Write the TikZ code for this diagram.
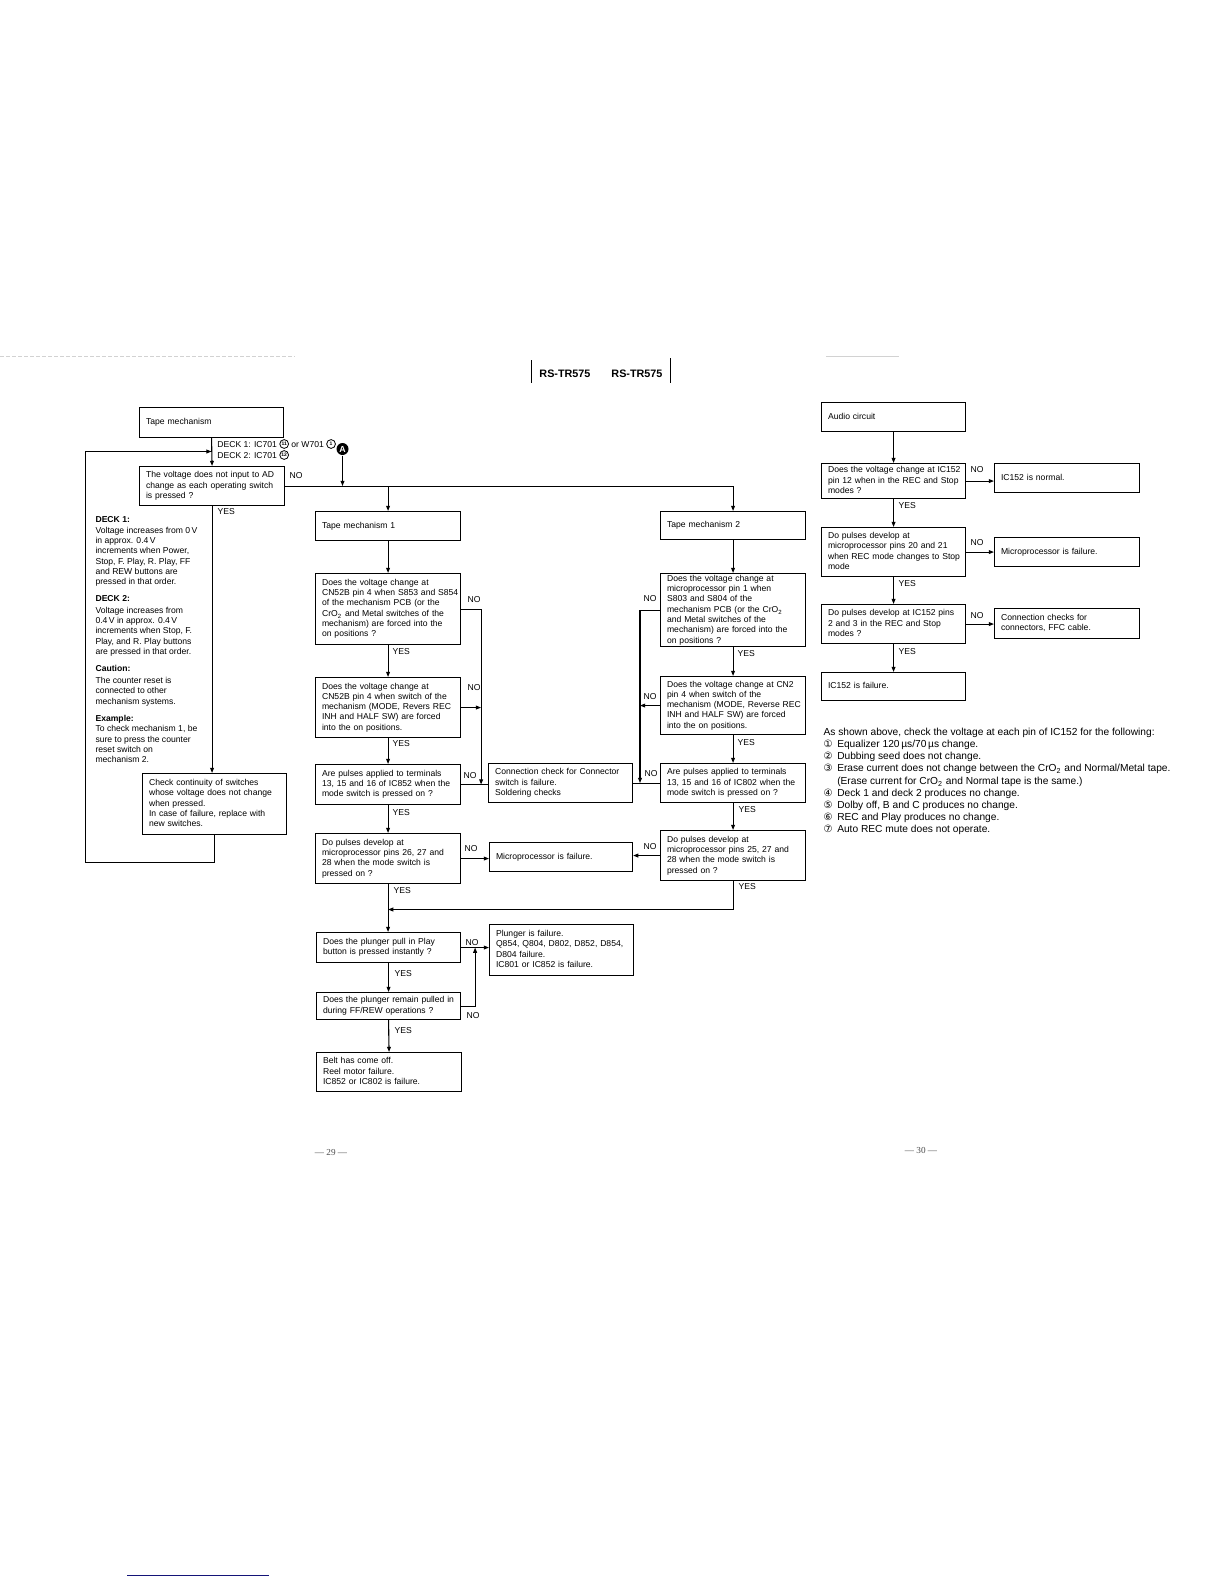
\documentclass[tikz,border=0pt]{standalone}
\usepackage{fontspec}
\setmainfont{Liberation Sans}
\newfontfamily\dejavu{DejaVu Sans}
\newfontfamily\serifpn{Liberation Serif}
\usetikzlibrary{arrows.meta}
\newcommand\bxfont{\fontsize{4.3}{5.15}\selectfont}
\newcommand\notefont{\fontsize{5.1}{6.1}\selectfont}
\newcommand\tl[1]{\begin{tabular}{@{}l@{}}#1\end{tabular}}
\newcommand\cnum[1]{\tikz[baseline=-1.5pt]\node[circle,draw,line width=0.4pt,inner sep=0pt,minimum size=4.4pt,anchor=center,font=\bfseries\fontsize{2.5}{3}\selectfont]{#1};}
\newcommand\ci[1]{\makebox[6.85pt][l]{\dejavu\fontsize{5}{5}\selectfont #1}}
\tikzset{
  bx/.code 2 args={\pgfmathsetmacro\bxw{#1*0.5}\pgfmathsetmacro\bxh{#2*0.5}\pgfmathsetmacro\bxt{#1*0.5-6.5}%
    \edef\bxtmp{\noexpand\pgfkeysalso{minimum width=\bxw pt,minimum height=\bxh pt,text width=\bxt pt}}\bxtmp},
  box/.style={draw, anchor=north west, inner xsep=3.25pt, inner ysep=0pt, align=left, font=\bxfont},
  lbl/.style={inner sep=0pt, anchor=west, font=\bxfont},
  arr/.style={-{Triangle[length=2.6pt,width=1.9pt]}},
}
\begin{document}
\begin{tikzpicture}[x=0.5pt,y=-0.5pt,line width=0.55pt]
\useasboundingbox (0,0) rectangle (1224,1584);
\fill[white] (0,0) rectangle (1224,1584);

% scan artefacts / header
\draw[gray!35,line width=0.3pt,dash pattern=on 2pt off 1pt] (0,356.5) -- (295,356.5);
\draw[gray!35,line width=0.3pt] (826,356.5) -- (899,356.5);
\draw[line width=0.5pt] (531.5,360) -- (531.5,383);
\draw[line width=0.5pt] (670.5,358) -- (670.5,383);
\node[font=\bfseries\fontsize{5.4}{6}\selectfont,inner sep=0pt] (hdr) at (601,374) {RS-TR575\hspace{10.5pt}RS-TR575};

% ---------- left column ----------
\node[box,bx={144}{30}] (tm) at (139,407) {\tl{Tape mechanism}};
\node[box,bx={145}{39}] (d0) at (139,466) {\tl{The voltage does not input to AD\\change as each operating switch\\is pressed ?}};
\node[box,bx={144}{61}] (chk) at (142,773) {\tl{Check continuity of switches\\whose voltage does not change\\when pressed.\\In case of failure, replace with\\new switches.}};
\node[lbl] (dk1) at (217,444) {DECK 1: IC701 \cnum{11} or W701 \cnum{1}};
\node[lbl] (dk2) at (217,455) {DECK 2: IC701 \cnum{12}};
\node[circle,fill=black,text=white,inner sep=0pt,minimum size=6pt,font=\bfseries\fontsize{4.4}{5}\selectfont] (A) at (342.5,449) {A};

\node[lbl,anchor=north west,align=left] (n1) at (95,515.8) {\textbf{DECK 1:}\\[0.3pt]Voltage increases from 0\,V\\in approx. 0.4\,V\\increments when Power,\\Stop, F. Play, R. Play, FF\\and REW buttons are\\pressed in that order.};
\node[lbl,anchor=north west,align=left] (n2) at (95,594.8) {\textbf{DECK 2:}\\[0.8pt]Voltage increases from\\0.4\,V in approx. 0.4\,V\\increments when Stop, F.\\Play, and R. Play buttons\\are pressed in that order.};
\node[lbl,anchor=north west,align=left] (n3) at (95,664.8) {\textbf{Caution:}\\[0.8pt]The counter reset is\\connected to other\\mechanism systems.};
\node[lbl,anchor=north west,align=left] (n4) at (95,714.8) {\textbf{Example:}\\To check mechanism 1, be\\sure to press the counter\\reset switch on\\mechanism 2.};

\draw[arr] (tm.south) -- (d0.north);
\path (tm.south |- 0,451.5) coordinate (loopin);
\draw[arr] (chk.south) -- (chk.south |- 0,862.5) -- (85.5,862.5) -- (85.5,451.5) -- (loopin);
\draw[arr] (d0.south) -- (d0.south |- chk.north);
\node[lbl] (y0) at (217,512) {YES};
\node[lbl] (no0) at (289,476) {NO};

% ---------- mechanism 1 ----------
\node[box,bx={145}{29}] (tm1) at (315,511) {\tl{Tape mechanism 1}};
\node[box,bx={145}{71}] (m1q1) at (315,573) {\tl{Does the voltage change at\\CN52B pin 4 when S853 and S854\\of the mechanism PCB (or the\\CrO\textsubscript{2} and Metal switches of the\\mechanism) are forced into the\\on positions ?}};
\node[box,bx={145}{60}] (m1q2) at (315,677) {\tl{Does the voltage change at\\CN52B pin 4 when switch of the\\mechanism (MODE, Revers REC\\INH and HALF SW) are forced\\into the on positions.}};
\node[box,bx={145}{40}] (m1q3) at (315,764) {\tl{Are pulses applied to terminals\\13, 15 and 16 of IC852 when the\\mode switch is pressed on ?}};
\node[box,bx={145}{50}] (m1q4) at (315,833) {\tl{Do pulses develop at\\microprocessor pins 26, 27 and\\28 when the mode switch is\\pressed on ?}};

% ---------- middle ----------
\node[box,bx={144}{39}] (conn) at (488,763) {\tl{Connection check for Connector\\switch is failure.\\Soldering checks}};
\node[box,bx={143}{29}] (micro) at (489,842) {\tl{Microprocessor is failure.}};

% ---------- mechanism 2 ----------
\node[box,bx={145}{28}] (tm2) at (660,511) {\tl{Tape mechanism 2}};
\node[box,bx={145}{73}] (m2q1) at (660,573) {\tl{Does the voltage change at\\microprocessor pin 1 when\\S803 and S804 of the\\mechanism PCB (or the CrO\textsubscript{2}\\and Metal switches of the\\mechanism) are forced into the\\on positions ?}};
\node[box,bx={145}{58}] (m2q2) at (660,676) {\tl{Does the voltage change at CN2\\pin 4 when switch of the\\mechanism (MODE, Reverse REC\\INH and HALF SW) are forced\\into the on positions.}};
\node[box,bx={145}{39}] (m2q3) at (660,763) {\tl{Are pulses applied to terminals\\13, 15 and 16 of IC802 when the\\mode switch is pressed on ?}};
\node[box,bx={145}{50}] (m2q4) at (660,830) {\tl{Do pulses develop at\\microprocessor pins 25, 27 and\\28 when the mode switch is\\pressed on ?}};

% ---------- plunger ----------
\node[box,bx={144}{30}] (pq1) at (316,932) {\tl{Does the plunger pull in Play\\button is pressed instantly ?}};
\node[box,bx={144}{27}] (pq2) at (316,992) {\tl{Does the plunger remain pulled in\\during FF/REW operations ?}};
\node[box,bx={144}{51}] (plf) at (489,924) {\tl{Plunger is failure.\\Q854, Q804, D802, D852, D854,\\D804 failure.\\IC801 or IC852 is failure.}};
\node[box,bx={145}{39}] (belt) at (316,1052) {\tl{Belt has come off.\\Reel motor failure.\\IC852 or IC802 is failure.}};

% connectors from first decision
\draw (d0.east) -- (d0.east -| tm2.north);
\draw[arr] (d0.east -| tm1.north) -- (tm1.north);
\draw[arr] (d0.east -| tm2.north) -- (tm2.north);
\draw[arr] (A) -- (A |- d0.east);

% mechanism 1 chain
\draw[arr] (tm1.south) -- (m1q1.north);
\draw[arr] (m1q1.south) -- (m1q2.north);
\draw[arr] (m1q2.south) -- (m1q3.north);
\draw[arr] (m1q3.south) -- (m1q4.north);
\node[lbl] (y1) at (392,652) {YES};
\node[lbl] (y2) at (392,744) {YES};
\node[lbl] (y3) at (392,813) {YES};
\node[lbl] (y4) at (393,891) {YES};
\path (m1q3.east) ++(20,0) coordinate (jL);
\draw[arr] (m1q1.east) -| (jL);
\draw[arr] (m1q2.east) -- (m1q2.east -| jL);
\draw (m1q3.east) -- (m1q3.east -| conn.west);
\draw[arr] (m1q4.east) -- (m1q4.east -| micro.west);
\node[lbl] (no1) at (467,600) {NO};
\node[lbl] (no2) at (467,688) {NO};
\node[lbl] (no3) at (463,776) {NO};
\node[lbl] (no4) at (464,849) {NO};

% mechanism 2 chain
\draw[arr] (tm2.south) -- (m2q1.north);
\draw[arr] (m2q1.south) -- (m2q2.north);
\draw[arr] (m2q2.south) -- (m2q3.north);
\draw[arr] (m2q3.south) -- (m2q4.north);
\node[lbl] (y5) at (737,654) {YES};
\node[lbl] (y6) at (737,743) {YES};
\node[lbl] (y7) at (738,810) {YES};
\node[lbl] (y8) at (738,887) {YES};
\path (m2q3.west) ++(-20,0) coordinate (jR);
\draw[arr] (m2q1.west) -| (jR);
\draw[arr] (m2q2.west) -- (m2q2.west -| jR);
\draw (m2q3.west) -- (m2q3.west -| conn.east);
\draw[arr] (m2q4.west) -- (m2q4.west -| micro.east);
\node[lbl] (no5) at (643,599) {NO};
\node[lbl] (no6) at (643,697) {NO};
\node[lbl] (no7) at (644,774) {NO};
\node[lbl] (no8) at (643,847) {NO};

% merge and plunger
\path (m1q4.south |- 0,909.5) coordinate (mrg);
\draw[arr] (m2q4.south) |- (mrg);
\draw[arr] (m1q4.south) -- (m1q4.south |- pq1.north);
\draw[arr] (pq1.south) -- (pq2.north);
\draw[arr] (pq2.south) -- (belt.north);
\path (pq1.east) ++(14,0) coordinate (jP);
\draw[arr] (pq1.east) -- (pq1.east -| plf.west);
\draw[arr] (pq2.east) -| (jP);
\node[lbl] (no9) at (465,943) {NO};
\node[lbl] (no10) at (466,1016) {NO};
\node[lbl] (y9) at (394,974) {YES};
\node[lbl] (y10) at (394,1031) {YES};

% ---------- audio circuit ----------
\node[box,bx={144}{29}] (ac) at (821,402) {\tl{Audio circuit}};
\node[box,bx={144}{35}] (aq1) at (821,463) {\tl{Does the voltage change at IC152\\pin 12 when in the REC and Stop\\modes ?}};
\node[box,bx={145}{29}] (an) at (994,463) {\tl{IC152 is normal.}};
\node[box,bx={144}{49}] (aq2) at (821,527) {\tl{Do pulses develop at\\microprocessor pins 20 and 21\\when REC mode changes to Stop\\mode}};
\node[box,bx={145}{29}] (amf) at (994,537) {\tl{Microprocessor is failure.}};
\node[box,bx={144}{39}] (aq3) at (821,604) {\tl{Do pulses develop at IC152 pins\\2 and 3 in the REC and Stop\\modes ?}};
\node[box,bx={145}{30}] (acc) at (994,608) {\tl{Connection checks for\\connectors, FFC cable.}};
\node[box,bx={144}{28}] (af) at (821,672) {\tl{IC152 is failure.}};
\draw[arr] (ac.south) -- (aq1.north);
\draw[arr] (aq1.south) -- (aq2.north);
\draw[arr] (aq2.south) -- (aq3.north);
\draw[arr] (aq3.south) -- (af.north);
\draw[arr] (aq1.east) -- (aq1.east -| an.west);
\draw[arr] (aq2.east) -- (aq2.east -| amf.west);
\draw[arr] (aq3.east) -- (aq3.east -| acc.west);
\node[lbl] (no11) at (970,470) {NO};
\node[lbl] (no12) at (970,543) {NO};
\node[lbl] (no13) at (970,616) {NO};
\node[lbl] (y11) at (898,506) {YES};
\node[lbl] (y12) at (898,584) {YES};
\node[lbl] (y13) at (898,652) {YES};

\node[inner sep=0pt,anchor=north west,align=left,font=\notefont] (note) at (823,727.4) {As shown above, check the voltage at each pin of IC152 for the following:\\
\ci{①}Equalizer 120\,µs/70\,µs change.\\
\ci{②}Dubbing seed does not change.\\
\ci{③}Erase current does not change between the CrO\textsubscript{2} and Normal/Metal tape.\\
\hspace*{6.85pt}(Erase current for CrO\textsubscript{2} and Normal tape is the same.)\\
\ci{④}Deck 1 and deck 2 produces no change.\\
\ci{⑤}Dolby off, B and C produces no change.\\
\ci{⑥}REC and Play produces no change.\\
\ci{⑦}Auto REC mute does not operate.};

% page numbers and bottom rule
\node[font=\serifpn\fontsize{4.6}{5}\selectfont,text=black!70,inner sep=0pt] (p29) at (331,1152) {— 29 —};
\node[font=\serifpn\fontsize{4.6}{5}\selectfont,text=black!70,inner sep=0pt] (p30) at (921,1150) {— 30 —};
\draw[color={rgb,255:red,20;green,20;blue,120},line width=0.6pt] (127,1575.5) -- (269,1575.5);
\end{tikzpicture}
\end{document}
